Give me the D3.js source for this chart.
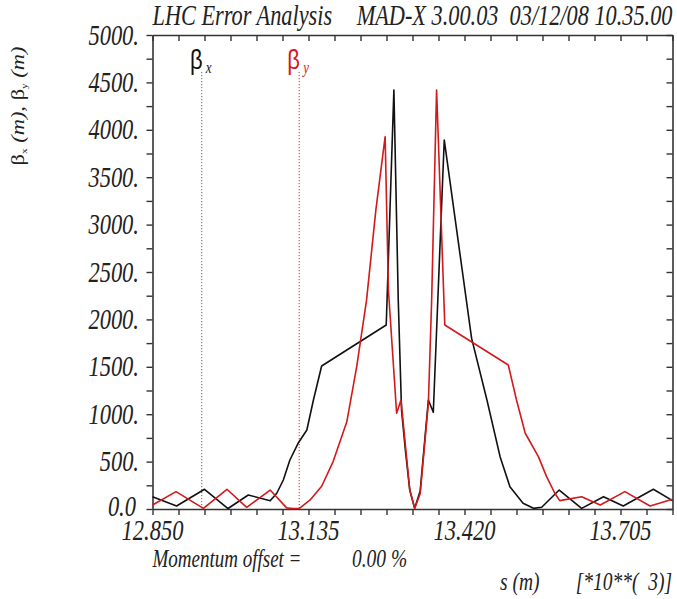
<!DOCTYPE html>
<html><head><meta charset="utf-8">
<script src="https://cdn.jsdelivr.net/npm/d3@7"></script>
<style>
html,body{margin:0;padding:0;background:#fff;}
svg{display:block;}
text{white-space:pre;}
</style></head>
<body>
<script>
// ---- data (s in km, beta in m) ----
const sBetx = [12.850,12.894,12.945,12.988,13.025,13.065,13.077,13.089,13.101,13.116,13.132,13.144,13.159,13.277,13.291,13.299,13.305,13.312,13.320,13.329,13.339,13.354,13.363,13.383,13.433,13.461,13.485,13.503,13.527,13.546,13.561,13.593,13.634,13.674,13.710,13.765,13.800];
const betx  = [130,32,208,5,148,88,166,306,517,693,833,1150,1508,1941,4420,2200,1040,620,200,7,190,1150,1020,3893,1800,1150,552,235,60,7,18,200,7,130,32,208,88];

const sBety = [12.850,12.893,12.943,12.986,13.022,13.065,13.095,13.107,13.118,13.138,13.159,13.180,13.205,13.223,13.241,13.258,13.275,13.281,13.296,13.304,13.320,13.329,13.339,13.354,13.360,13.369,13.384,13.500,13.515,13.531,13.555,13.570,13.585,13.594,13.634,13.668,13.713,13.759,13.800];
const bety  = [42,183,7,208,18,200,12,5,5,95,240,500,920,1500,2200,3150,3927,2310,1010,1150,200,7,160,1118,2205,4420,1941,1519,1150,799,552,341,166,88,130,42,183,32,102];

const xDomain = [12.85, 13.80];
const yDomain = [0, 5000];
const xMinorTicks = d3.range(21).map(i => 12.85 + i * 0.0475);
const xTickValues = [12.850, 13.135, 13.420, 13.705];
const xTickLabels = ["12.850", "13.135", "13.420", "13.705"];
const yMinorTicks = d3.range(21).map(i => i * 250);
const yTickValues = [0,500,1000,1500,2000,2500,3000,3500,4000,4500,5000];
const yTickLabels = ["0.0","500.","1000.","1500.","2000.","2500.","3000.","3500.","4000.","4500.","5000."];
const legendNames = ["x", "y"];
const legendS = [12.940, 13.118];
const seriesColors = ["#111111", "#d2191c"];

const W = 677, H = 599, SY = 1.28;
const svg = d3.select("body").append("svg").attr("width", W).attr("height", H);

const x = d3.scaleLinear().domain(xDomain).range([152.5, 672.5]);
const y = d3.scaleLinear().domain(yDomain).range([509, 35]);

const axisColor = "#333";
function styleAxis(g){
  g.selectAll("path.domain").attr("stroke", axisColor).attr("stroke-width", 1.6);
  g.selectAll(".tick line").attr("stroke", axisColor).attr("stroke-width", 1.4);
  g.selectAll(".tick text").remove();
}
svg.append("g").attr("transform", `translate(0,${y(0)})`)
  .call(d3.axisBottom(x).tickValues(xMinorTicks).tickSize(6).tickSizeOuter(0).tickFormat("")).call(styleAxis);
svg.append("g").attr("transform", `translate(0,${y(5000)})`)
  .call(d3.axisBottom(x).tickValues(xMinorTicks).tickSize(6).tickSizeOuter(0).tickFormat("")).call(styleAxis);
svg.append("g").attr("transform", `translate(${x(xDomain[0])},0)`)
  .call(d3.axisLeft(y).tickValues(yMinorTicks).tickSize(6).tickSizeOuter(0).tickFormat("")).call(styleAxis);
svg.append("g").attr("transform", `translate(${x(xDomain[1])},0)`)
  .call(d3.axisLeft(y).tickValues(yMinorTicks).tickSize(6).tickSizeOuter(0).tickFormat("")).call(styleAxis);

// stretched text helper
function stext(px, py, anchor, size, family, style, fill, sy){
  const g = svg.append("g").attr("transform", `translate(${px},${py}) scale(1,${sy||SY})`);
  return g.append("text").attr("x", 0).attr("y", 0).attr("xml:space", "preserve")
    .attr("text-anchor", anchor).attr("font-size", size)
    .attr("font-family", family).attr("font-style", style).attr("fill", fill);
}
const SERIF = "'Liberation Serif','Times New Roman',serif";
const SANS = "'Liberation Sans',Arial,sans-serif";

// tick labels
xTickValues.forEach((v,i) => stext(x(v), 539.5, "middle", 22.5, SERIF, "italic", "#222").text(xTickLabels[i]));
yTickValues.forEach((v,i) => stext(v === 0 ? 136 : 139, y(v) + 9.5 - (v === 0 ? 2.5 : 0), "end", 22.5, SERIF, "italic", "#222").text(yTickLabels[i]));

// title
stext(x(xDomain[0]), 25, "start", 22.3, SERIF, "italic", "#222").text("LHC Error Analysis");
stext(x(xDomain[1]), 25, "end", 22.3, SERIF, "italic", "#222").text("MAD-X 3.00.03  03/12/08 10.35.00");

// bottom texts
stext(x(xDomain[0]), 567, "start", 19, SERIF, "italic", "#222").text("Momentum offset =");
stext(352, 567, "start", 19.5, SERIF, "italic", "#222").text("0.00 %");
stext(500, 590, "start", 19.5, SERIF, "italic", "#222").text("s (m)");
stext(672, 590, "end", 19.5, SERIF, "italic", "#222").text("[*10**(\u00A0\u00A03)]");

// y-axis title (rotated)
{
  const g = svg.append("g").attr("transform", "translate(24,106) rotate(-90) scale(1.25,1)");
  const t = g.append("text").attr("text-anchor", "middle").attr("font-size", 18)
    .attr("font-family", SERIF).attr("fill", "#222").attr("xml:space", "preserve");
  t.append("tspan").text("β");
  t.append("tspan").attr("font-size", 9).attr("dy", 3).text("x");
  t.append("tspan").attr("dy", -3).attr("font-style", "italic").text(" (m), ");
  t.append("tspan").text("β");
  t.append("tspan").attr("font-size", 9).attr("dy", 3).text("y");
  t.append("tspan").attr("dy", -3).attr("font-style", "italic").text(" (m)");
}

// legend dotted lines + labels
legendS.forEach((s,i) => {
  svg.append("line").attr("x1", x(s)).attr("x2", x(s)).attr("y1", 72).attr("y2", y(0))
    .attr("stroke", i === 0 ? "#6b5f5f" : "#c0392b").attr("stroke-width", 1)
    .attr("stroke-dasharray", "1.2,1.8");
  stext(x(s) - 5.5, 69, "middle", 22, SANS, "normal", seriesColors[i]).text("β");
  stext(x(s) + 4, 73, "start", 13, SERIF, "italic", seriesColors[i]).text(legendNames[i]);
});

// curves
const line = d3.line().x(d => x(d[0])).y(d => y(d[1]));
const seriesData = [d3.zip(sBetx, betx), d3.zip(sBety, bety)];
seriesData.forEach((d,i) => {
  svg.append("path").datum(d).attr("d", line).attr("fill", "none")
    .attr("stroke", seriesColors[i]).attr("stroke-width", 1.6).attr("stroke-linejoin", "round");
});
</script>
</body></html>
